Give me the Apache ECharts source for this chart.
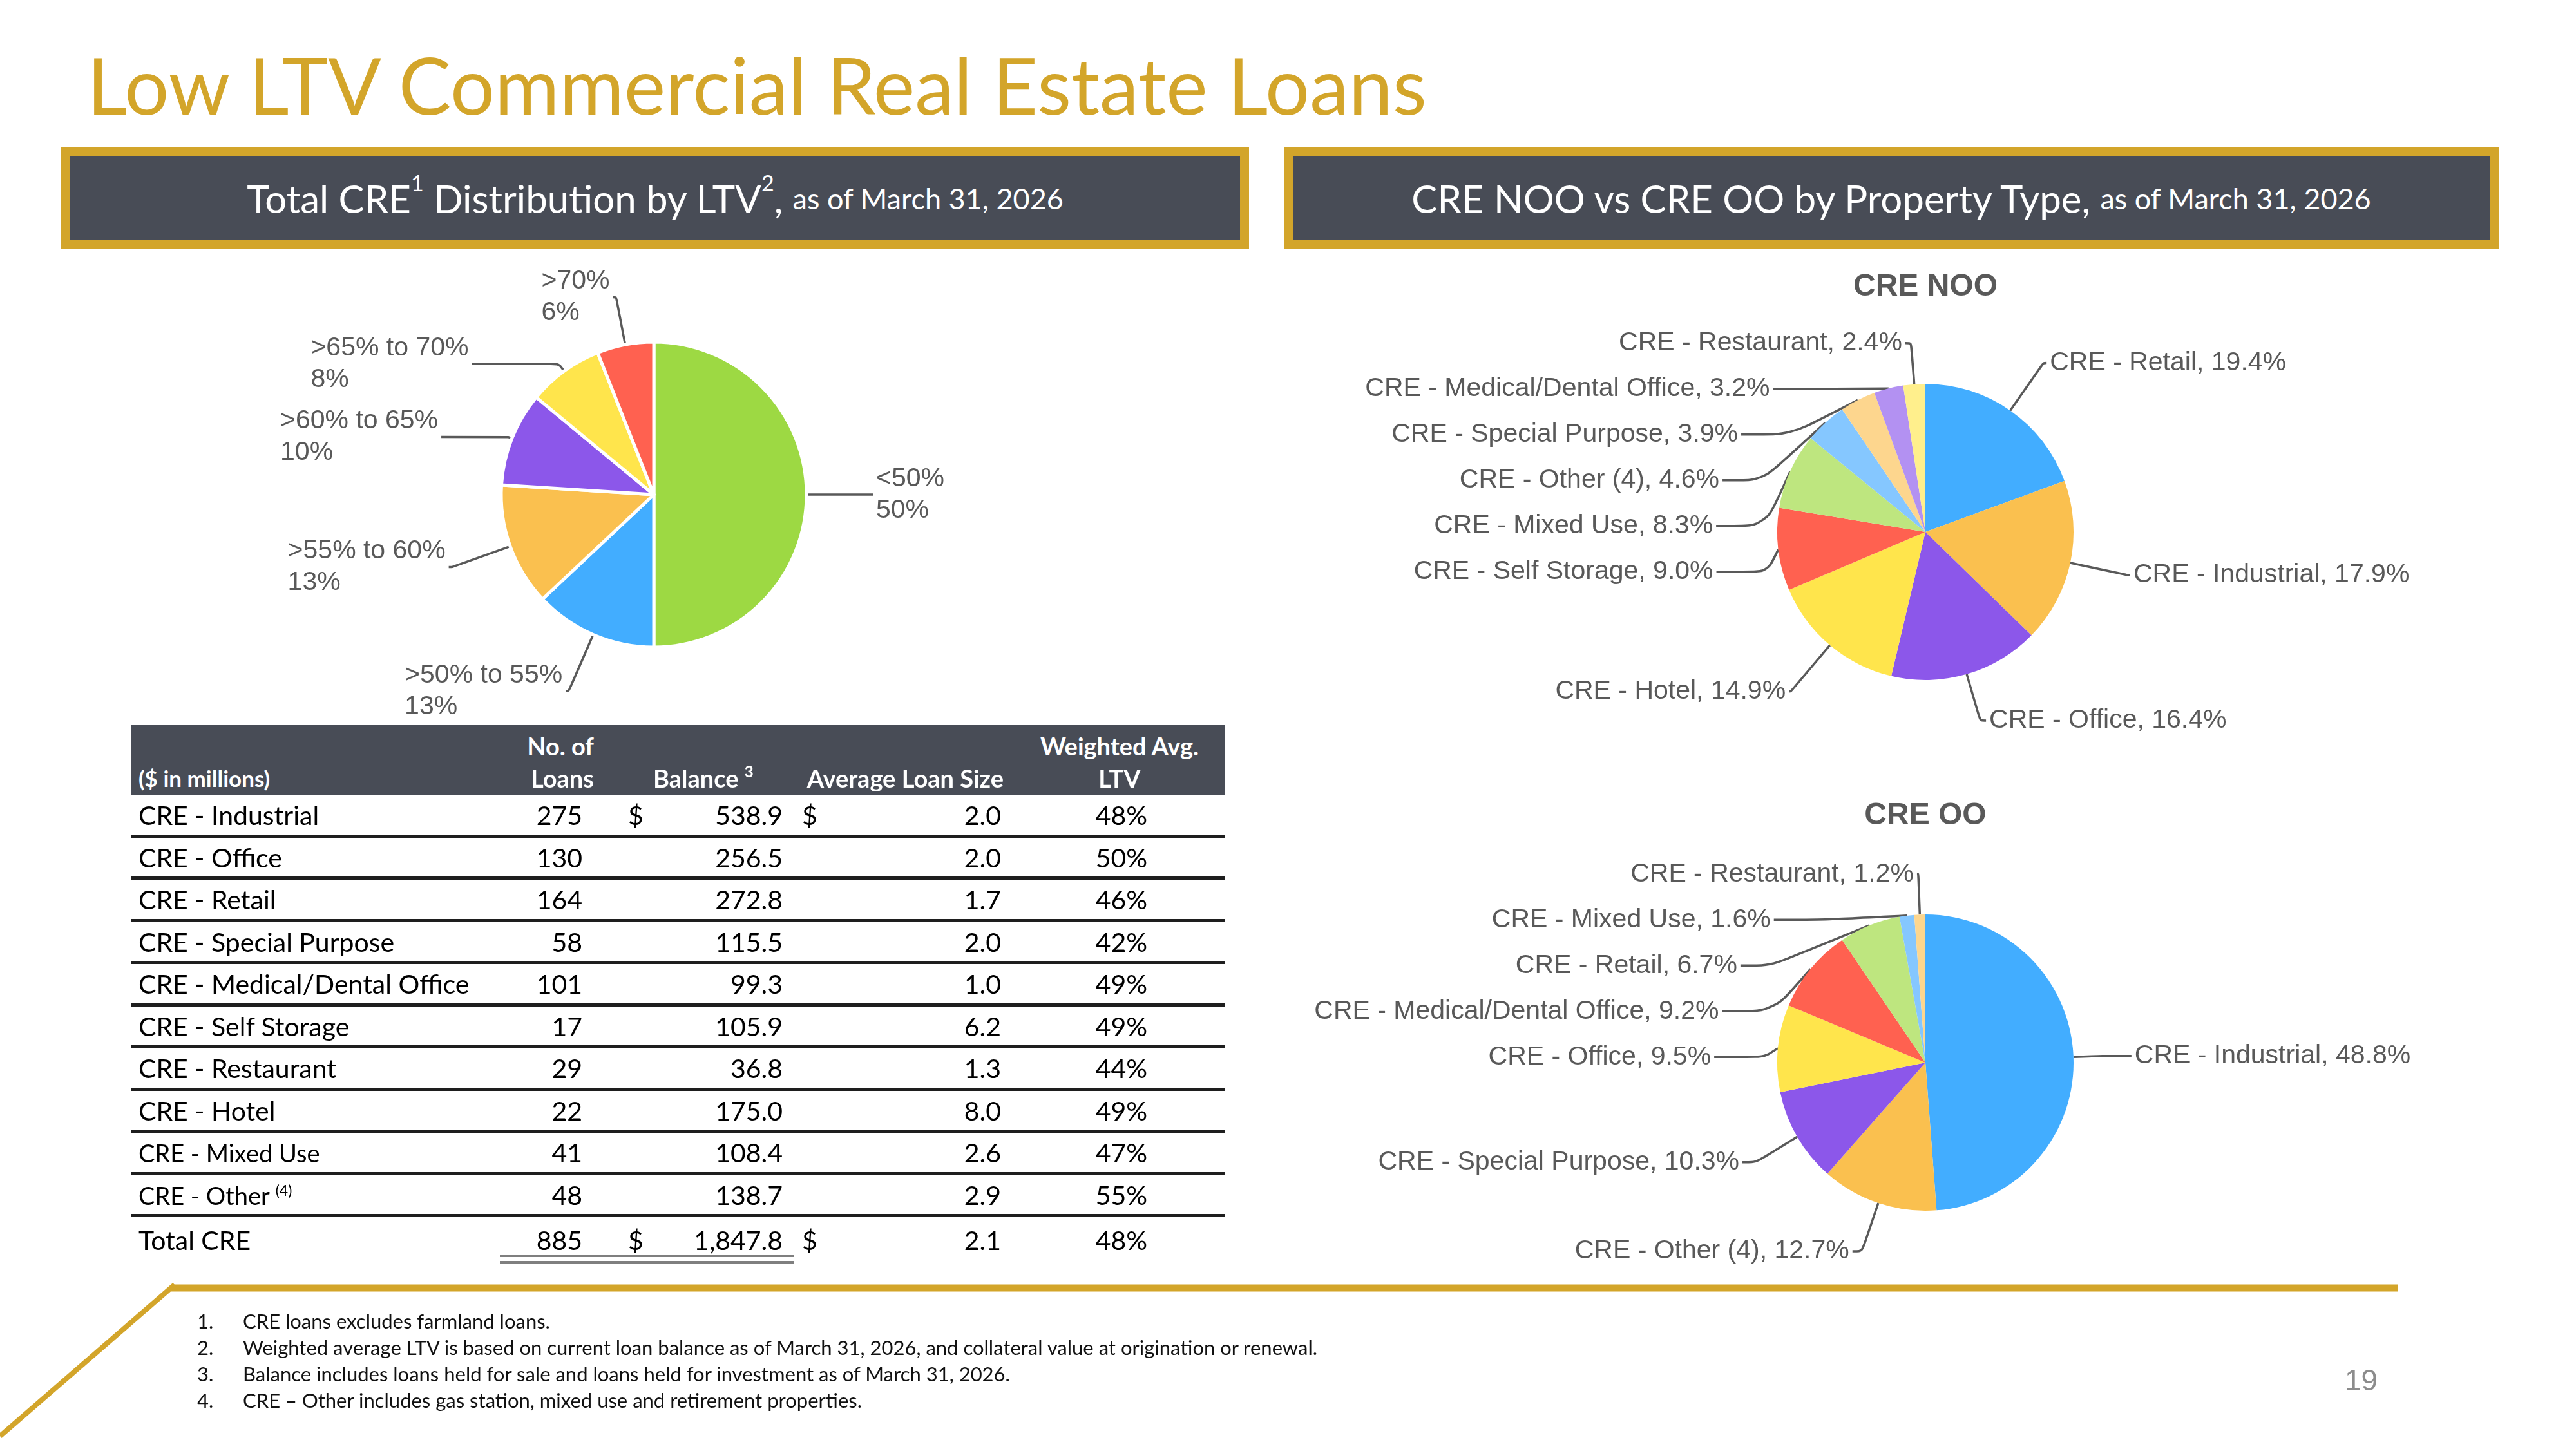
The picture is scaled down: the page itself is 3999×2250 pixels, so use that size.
<!DOCTYPE html>
<html>
<head>
<meta charset="utf-8">
<title>Low LTV Commercial Real Estate Loans</title>
<script src="https://cdn.jsdelivr.net/npm/echarts@6/dist/echarts.min.js"></script>
<style>
  body { margin: 0; background: #fff; }
  #page { position: relative; width: 3999px; height: 2250px; overflow: hidden; font-family: Lato, sans-serif; }
  #main { position: absolute; left: 0; top: 0; width: 3999px; height: 2250px; }
  .title { position: absolute; left: 135px; top: 58px; font-size: 122px; line-height: 1.2; color: #D3A52A; white-space: nowrap; }
  .hdr { position: absolute; top: 229px; height: 158px; box-sizing: border-box; border: 14px solid #D3A52A;
         background: #484C56; color: #fff; font-size: 60px; line-height: 1.2; display: flex; align-items: center; justify-content: center; white-space: nowrap; }
  .hdr .small { font-size: 45px; }
  .hdr .sup { font-size: 34px; position: relative; top: -24px; }
  .cell { position: absolute; white-space: nowrap; }
  #table { position: absolute; left: 204px; top: 1125px; width: 1698px; height: 880px; font-size: 41px; color: #000; }
  .thead { position: absolute; left: 0; top: 0; width: 1698px; height: 110px; background: #484C56; color: #fff; font-weight: bold; font-size: 38px; }
  .row { position: absolute; left: 0; width: 1698px; box-sizing: border-box; }
  .notes { position: absolute; left: 0; top: 0; font-size: 31px; color: #111; }
  .pg { position: absolute; left: 3640px; top: 2116px; font-family: "Liberation Sans", Arial, sans-serif; font-size: 46px; color: #8C8C8C; }
</style>
</head>
<body>
<div id="page">
  <div id="main"></div>
  <div class="title">Low LTV Commercial Real Estate Loans</div>
  <div class="hdr" style="left:95px; width:1844px;">Total CRE<span class="sup">1</span>&nbsp;Distribution by LTV<span class="sup">2</span>,&nbsp;<span class="small">as of March 31, 2026</span></div>
  <div class="hdr" style="left:1993px; width:1886px;">CRE NOO vs CRE OO by Property Type,&nbsp;<span class="small">as of March 31, 2026</span></div>
  <div id="table"></div>
  <svg style="position:absolute; left:0; top:0;" width="3999" height="2250">
    <line x1="266" y1="2000" x2="3723" y2="2000" stroke="#D3A52A" stroke-width="11"/>
    <line x1="271" y1="1995" x2="0" y2="2230" stroke="#D3A52A" stroke-width="8"/>
  </svg>
  <div id="notes"></div>
  <div class="pg">19</div>
</div>
<script type="text/javascript">
    // left pie: total CRE by LTV band (share of balance, %)
    var ltvBands = ['<50%', '>50% to 55%', '>55% to 60%', '>60% to 65%', '>65% to 70%', '>70%'];
    var ltvShare = [50, 13, 13, 10, 8, 6];

    // right pies: property type mix
    var nooTypes = ['CRE - Retail', 'CRE - Industrial', 'CRE - Office', 'CRE - Hotel', 'CRE - Self Storage',
        'CRE - Mixed Use', 'CRE - Other (4)', 'CRE - Special Purpose', 'CRE - Medical/Dental Office', 'CRE - Restaurant'];
    var nooShare = [19.4, 17.9, 16.4, 14.9, 9.0, 8.3, 4.6, 3.9, 3.2, 2.4];
    var ooTypes = ['CRE - Industrial', 'CRE - Other (4)', 'CRE - Special Purpose', 'CRE - Office',
        'CRE - Medical/Dental Office', 'CRE - Retail', 'CRE - Mixed Use', 'CRE - Restaurant'];
    var ooShare = [48.8, 12.7, 10.3, 9.5, 9.2, 6.7, 1.6, 1.2];

    // table
    var rowNames = ['CRE - Industrial', 'CRE - Office', 'CRE - Retail', 'CRE - Special Purpose', 'CRE - Medical/Dental Office',
        'CRE - Self Storage', 'CRE - Restaurant', 'CRE - Hotel', 'CRE - Mixed Use', 'CRE - Other'];
    var rowLoans = [275, 130, 164, 58, 101, 17, 29, 22, 41, 48];
    var rowBalance = [538.9, 256.5, 272.8, 115.5, 99.3, 105.9, 36.8, 175.0, 108.4, 138.7];
    var rowAvgSize = [2.0, 2.0, 1.7, 2.0, 1.0, 6.2, 1.3, 8.0, 2.6, 2.9];
    var rowLtv = [48, 50, 46, 42, 49, 49, 44, 49, 47, 55];
    var totalLoans = 885, totalBalance = 1847.8, totalAvgSize = 2.1, totalLtv = 48;

    var footnotes = [
        'CRE loans excludes farmland loans.',
        'Weighted average LTV is based on current loan balance as of March 31, 2026, and collateral value at origination or renewal.',
        'Balance includes loans held for sale and loans held for investment as of March 31, 2026.',
        'CRE \u2013 Other includes gas station, mixed use and retirement properties.'
    ];

    // styling
    var ltvColors = ['#9DD943', '#42ADFF', '#FAC04F', '#8C57EA', '#FFE54C', '#FF6150'];
    var typeColors = ['#42ADFF', '#FAC04F', '#8C57EA', '#FFE54C', '#FF6150', '#BEE67F', '#85C7FF', '#FDD68E', '#B391F2', '#FFEF8C'];
    var ltvLen = [40, 95, 95, 6, 14, 75], ltvLen2 = [63, 5, 6, 104, 135, 5];
    var nooLen = [90, 89, 75, 94, 25, 10, 10, 10, 10, 64], nooLen2 = [5, 6, 9, 3, 79, 90, 89, 85, 84, 9];
    var ooLen = [45, 79, 79, 25, 20, 15, 15, 63], ooLen2 = [45, 15, 21, 78, 80, 82, 80, 2];

    var labelGrey = '#595959';
    var arial = '"Liberation Sans", Arial, sans-serif';

    function pieData(names, vals, colors, len, len2) {
        let out = [];
        for (let i = 0; i < names.length; i++) {
            out.push({
                name: names[i],
                value: vals[i],
                itemStyle: { color: colors[i] },
                labelLine: { length: len[i], length2: len2[i] }
            });
        }
        return out;
    }

    function typeLabel(p) {
        return p.name + ', ' + p.value.toFixed(1) + '%';
    }

    function typePie(cy, names, vals, len, len2) {
        return {
            type: 'pie',
            center: [2989, cy],
            radius: 230,
            startAngle: 90,
            clockwise: true,
            silent: true,
            animation: false,
            label: {
                show: true, position: 'outside', formatter: typeLabel,
                fontFamily: arial, fontSize: 41, lineHeight: 69, color: labelGrey
            },
            labelLine: { show: true, smooth: 0.25, lineStyle: { color: labelGrey, width: 3.5 } },
            data: pieData(names, vals, typeColors, len, len2)
        };
    }

    var chart = echarts.init(document.getElementById('main'));
    chart.setOption({
        animation: false,
        graphic: [
            { type: 'text', x: 2989, y: 446, style: { text: 'CRE NOO', align: 'center', verticalAlign: 'middle',
                font: 'bold 48px ' + arial, fill: labelGrey } },
            { type: 'text', x: 2989, y: 1267, style: { text: 'CRE OO', align: 'center', verticalAlign: 'middle',
                font: 'bold 48px ' + arial, fill: labelGrey } }
        ],
        series: [
            {
                type: 'pie',
                center: [1015, 768],
                radius: 237,
                startAngle: 90,
                clockwise: true,
                silent: true,
                animation: false,
                itemStyle: { borderColor: '#fff', borderWidth: 5 },
                label: {
                    show: true, position: 'outside',
                    formatter: function (p) { return '{t|' + p.name + '}\n{t|' + p.value + '%}'; },
                    rich: { t: { align: 'left', fontFamily: arial, fontSize: 41, lineHeight: 49, color: labelGrey } }
                },
                labelLine: { show: true, smooth: 0.25, lineStyle: { color: labelGrey, width: 3.5 } },
                data: pieData(ltvBands, ltvShare, ltvColors, ltvLen, ltvLen2)
            },
            typePie(826, nooTypes, nooShare, nooLen, nooLen2),
            typePie(1650, ooTypes, ooShare, ooLen, ooLen2)
        ]
    });

    // ---- table ----
    function fmt1(v) {
        return v.toLocaleString('en-US', { minimumFractionDigits: 1, maximumFractionDigits: 1 });
    }
    function cellL(x, y, text, extra) {
        return '<div class="cell" style="left:' + x + 'px;top:' + y + 'px;' + (extra || '') + '">' + text + '</div>';
    }
    function cellR(xr, y, text, extra) {
        return '<div class="cell" style="right:' + (1698 - xr) + 'px;top:' + y + 'px;text-align:right;' + (extra || '') + '">' + text + '</div>';
    }
    function cellC(xc, y, text, extra) {
        return '<div class="cell" style="left:' + (xc - 150) + 'px;width:300px;top:' + y + 'px;text-align:center;' + (extra || '') + '">' + text + '</div>';
    }

    // x positions relative to table left (204)
    var xName = 11, xLoansR = 700, xDollar1 = 771, xBalR = 1011, xDollar2 = 1041, xAvgR = 1350, xLtvC = 1537;
    var html = '';
    var h1 = 8, h2 = 58;
    html += '<div class="thead">' +
        cellL(xName, h2, '($ in millions)', 'font-size:35px;line-height:50px;') +
        cellR(718, h1, 'No. of', 'line-height:50px;') +
        cellR(718, h2, 'Loans', 'line-height:50px;') +
        cellL(810, h2, 'Balance <span style="font-size:24px;position:relative;top:-16px;">3</span>', 'line-height:50px;') +
        cellR(1354, h2, 'Average Loan Size', 'line-height:50px;') +
        cellC(xLtvC - 3, h1, 'Weighted Avg.', 'line-height:50px;') +
        cellC(xLtvC - 3, h2, 'LTV', 'line-height:50px;') +
        '</div>';

    var rowH = 65.5, top0 = 110;
    for (let i = 0; i < rowNames.length; i++) {
        let y = top0 + i * rowH;
        let name = rowNames[i];
        if (name === 'CRE - Other') name += ' <span style="font-size:23px;position:relative;top:-14px;">(4)</span>';
        let nameStyle = (i >= 8) ? 'font-size:38px;' : '';
        let r = '<div class="row" style="top:' + y + 'px;height:' + rowH + 'px;border-bottom:5px solid #1E1E1E;line-height:62px;">' +
            cellL(xName, 0, name, nameStyle) +
            cellR(xLoansR, 0, String(rowLoans[i])) +
            (i === 0 ? cellL(xDollar1, 0, '$') : '') +
            cellR(xBalR, 0, fmt1(rowBalance[i])) +
            (i === 0 ? cellL(xDollar2, 0, '$') : '') +
            cellR(xAvgR, 0, fmt1(rowAvgSize[i])) +
            cellC(xLtvC, 0, rowLtv[i] + '%') +
            '</div>';
        html += r;
    }
    let yt = top0 + rowNames.length * rowH;
    html += '<div class="row" style="top:' + yt + 'px;height:72px;line-height:72px;">' +
        cellL(xName, 0, 'Total CRE') +
        cellR(xLoansR, 0, String(totalLoans)) +
        cellL(xDollar1, 0, '$') +
        cellR(xBalR, 0, fmt1(totalBalance)) +
        cellL(xDollar2, 0, '$') +
        cellR(xAvgR, 0, fmt1(totalAvgSize)) +
        cellC(xLtvC, 0, totalLtv + '%') +
        '</div>';
    // double underline under the totals
    html += '<div style="position:absolute;left:572px;top:823px;width:457px;height:4px;background:#7F7F7F;"></div>';
    html += '<div style="position:absolute;left:572px;top:833px;width:457px;height:4px;background:#7F7F7F;"></div>';
    document.getElementById('table').innerHTML = html;

    // ---- footnotes ----
    let nh = '';
    for (let i = 0; i < footnotes.length; i++) {
        let y = 2032 + i * 41;
        nh += '<div class="cell notes" style="left:306px;top:' + y + 'px;">' + (i + 1) + '.</div>';
        nh += '<div class="cell notes" style="left:377px;top:' + y + 'px;">' + footnotes[i] + '</div>';
    }
    document.getElementById('notes').innerHTML = nh;
</script>
</body>
</html>
